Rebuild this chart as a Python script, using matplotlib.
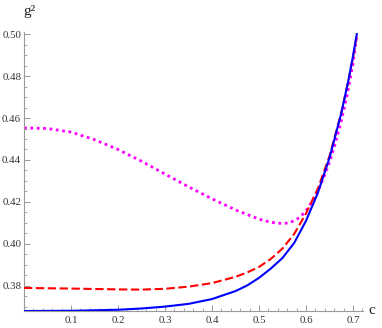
import numpy as np
import matplotlib
matplotlib.use("Agg")
import matplotlib.pyplot as plt
from matplotlib.ticker import MultipleLocator

plt.rcParams['font.family'] = ['Liberation Serif', 'DejaVu Serif']

# data
c_blue = [0.0, 0.1, 0.2, 0.25, 0.3, 0.35, 0.4, 0.45, 0.475, 0.5, 0.525, 0.55, 0.575, 0.6,
          0.625, 0.65, 0.675, 0.69, 0.7, 0.708]
g_blue = [0.3680, 0.3681, 0.3686, 0.3692, 0.3701, 0.3714, 0.3737, 0.3775, 0.3802, 0.3838, 0.3882, 0.3933, 0.4005, 0.4110,
          0.4242, 0.4410, 0.4622, 0.4777, 0.4895, 0.5000]

c_red = [0.0, 0.1, 0.2, 0.25, 0.3, 0.35, 0.4, 0.45, 0.475, 0.5, 0.525, 0.55, 0.575, 0.6,
         0.625, 0.65, 0.675, 0.69, 0.7, 0.708]
g_red = [0.3790, 0.3787, 0.3783, 0.3782, 0.3786, 0.3796, 0.3813, 0.3843, 0.3864, 0.3890, 0.3928, 0.3978, 0.4048, 0.4145,
         0.4262, 0.4418, 0.4625, 0.4775, 0.4890, 0.4995]

c_mag = [0.0, 0.05, 0.1, 0.15, 0.2, 0.25, 0.3, 0.35, 0.4, 0.45, 0.5, 0.525, 0.55, 0.5625, 0.575, 0.5875, 0.6,
         0.6125, 0.625, 0.6375, 0.65, 0.6625, 0.675, 0.6875, 0.7, 0.708]
g_mag = [0.4553, 0.4550, 0.4533, 0.4497, 0.4450, 0.4394, 0.4333, 0.4272, 0.4215, 0.4162, 0.4118, 0.4103, 0.4097, 0.4100, 0.4110, 0.4128, 0.4158,
         0.4200, 0.4250, 0.4315, 0.4390, 0.4480, 0.4585, 0.4710, 0.4860, 0.4990]

fig = plt.figure(figsize=(3.82, 3.28), dpi=100)
ax = fig.add_axes([0.0628, 0.0518, 0.8875, 0.8506])

ax.plot(c_blue, g_blue, color=(0, 0, 1), lw=1.5, zorder=4)
ax.plot(c_red, g_red, color=(1, 0, 0), lw=1.5, dashes=(4, 1.7), zorder=3)
ax.plot(c_mag, g_mag, color=(1, 0, 1), lw=2.0, dashes=(1, 1.3), zorder=2)

ax.set_xlim(0, 0.7213)
ax.set_ylim(0.368, 0.501)

for s in ['top', 'right']:
    ax.spines[s].set_visible(False)
for s in ['left', 'bottom']:
    ax.spines[s].set_color('#999999')
    ax.spines[s].set_linewidth(0.8)

ax.set_xticks([0.1, 0.2, 0.3, 0.4, 0.5, 0.6, 0.7])
ax.set_xticklabels(['0.1', '0.2', '0.3', '0.4', '0.5', '0.6', '0.7'])
ax.set_yticks([0.38, 0.40, 0.42, 0.44, 0.46, 0.48, 0.50])
ax.set_yticklabels(['0.38', '0.40', '0.42', '0.44', '0.46', '0.48', '0.50'])
ax.xaxis.set_minor_locator(MultipleLocator(0.02))
ax.yaxis.set_minor_locator(MultipleLocator(0.005))
ax.tick_params(which='major', direction='in', length=4, width=0.7, color='#999999',
               labelsize=7.8, labelcolor='#333333', pad=2)
ax.tick_params(axis='x', which='major', pad=3.5)
ax.tick_params(which='minor', direction='in', length=2.2, width=0.6, color='#999999')

fig.text(30 / 382, 1 - 12 / 328, 'g²', fontsize=11, ha='center', va='center', color='#222222')
fig.text(372 / 382, 1 - 311 / 328, 'c', fontsize=11, ha='center', va='center', color='#222222')

fig.savefig('out.png', dpi=100)
